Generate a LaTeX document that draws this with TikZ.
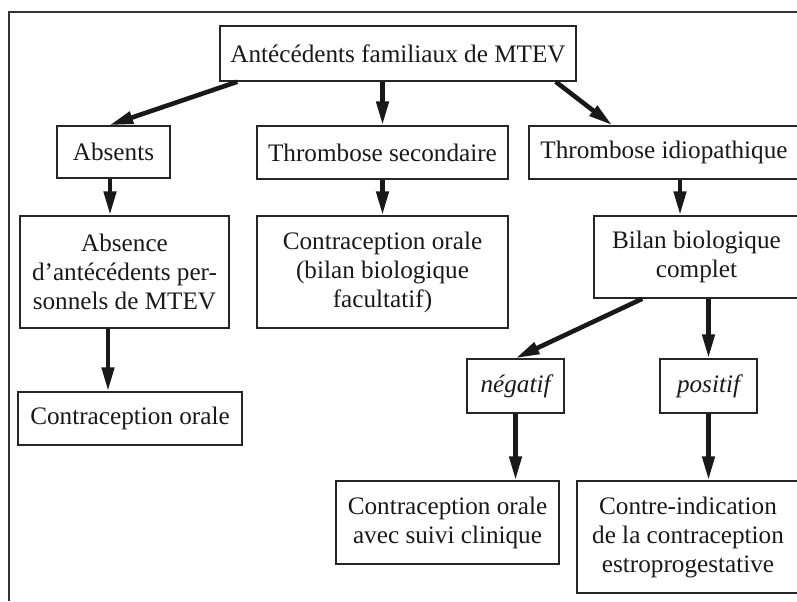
\documentclass[tikz,border=0pt]{standalone}
\usepackage{fontspec}
\setmainfont{Liberation Serif}
\usepackage{tikz}
\usetikzlibrary{arrows.meta,calc}

\begin{document}
\begin{tikzpicture}[x=0.5pt, y=-0.5pt,
  box/.style={draw=black!85, line width=0.75pt, inner sep=0pt, align=center,
    text=black!90, font=\fontsize{12.6}{14.5}\selectfont},
  flow/.style={draw=black!90, line width=2.3pt,
    -{Triangle[length=12pt, width=6pt]}}]
\useasboundingbox (0,0) rectangle (797,601);
\clip (0,0) rectangle (797,601);
\draw[black!80, line width=0.7pt] (9,601)--(9,12)--(797,12);
\node[box, minimum width=178pt,   minimum height=27.5pt] (top)     at (398,53.5)   {Antécédents familiaux de MTEV};
\node[box, minimum width=56.5pt,  minimum height=26pt]   (absents) at (113.5,152)  {Absents};
\node[box, minimum width=125.5pt, minimum height=26.5pt] (second)  at (382.5,152.5){Thrombose secondaire};
\node[box, minimum width=135pt,   minimum height=26.5pt] (idio)    at (664,152.5)  {Thrombose idiopathique};
\node[box, minimum width=104.5pt, minimum height=56pt]   (absence) at (124.5,272)  {Absence\\ d’antécédents per-\\ sonnels de MTEV};
\node[box, minimum width=125.5pt, minimum height=56pt]   (oral)    at (382.5,272)  {Contraception orale\\ (bilan biologique\\ facultatif)};
\node[box, minimum width=102.5pt, minimum height=41pt]   (bilan)   at (696.5,257)  {Bilan biologique\\ complet};
\node[box, minimum width=112pt,   minimum height=26.5pt] (oralA)   at (130,418.5)  {Contraception orale};
\node[box, minimum width=48.5pt,  minimum height=27pt]   (neg)     at (515.5,386)  {\itshape négatif};
\node[box, minimum width=48.5pt,  minimum height=27pt]   (pos)     at (708.5,386)  {\itshape positif};
\node[box, minimum width=111.5pt, minimum height=41.5pt] (suivi)   at (447.5,522.5){Contraception orale\\ avec suivi clinique};
\node[box, minimum width=111pt,   minimum height=56pt]   (contre)  at (688,537)    {Contre-indication\\ de la contraception\\ estroprogestative};
% arrow feet off the box centres
\coordinate (absA) at ($(absents.south)+(-3.5,0)$);
\coordinate (idiB) at ($(idio.south)+(16,0)$);
\coordinate (absC) at ($(absence.south)+(-16.5,0)$);
% arrows
\draw[flow] ($(top.south west)+(18,0)$) -- ($(absents.north west)+(53,0)$);
\draw[flow] (second.north |- top.south) -- (second.north);
\draw[flow] ($(top.south east)+(-21,0)$) -- ($(idio.north west)+(84,0)$);
\draw[flow] (absA) -- (absA |- absence.north);
\draw[flow] (second.south) -- (oral.north);
\draw[flow] (idiB) -- (idiB |- bilan.north);
\draw[flow] (absC) -- (absC |- oralA.north);
\draw[flow] ($(bilan.south west)+(49,0)$) -- (neg.north);
\draw[flow] (pos.north |- bilan.south) -- (pos.north);
\draw[flow] (neg.south) -- (neg.south |- suivi.north);
\draw[flow] (pos.south) -- (pos.south |- contre.north);
\end{tikzpicture}
\end{document}
